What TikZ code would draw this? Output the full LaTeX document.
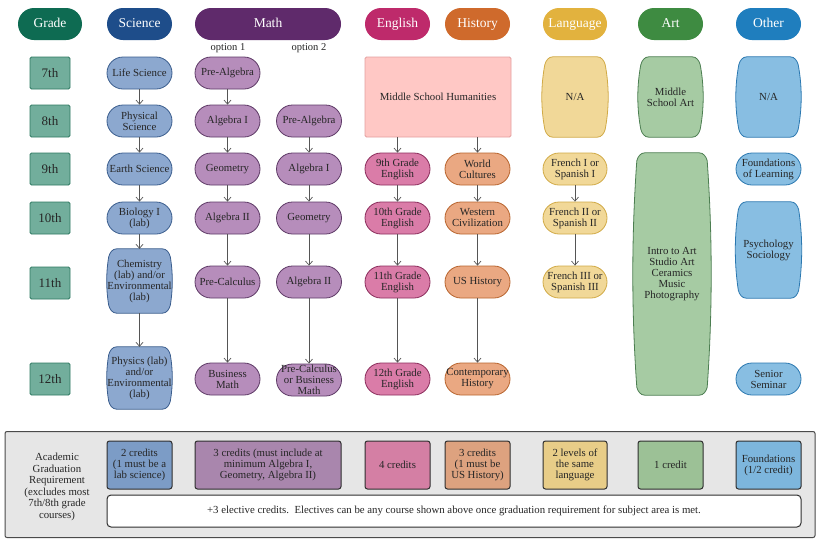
\documentclass[tikz,border=0pt]{standalone}
\usepackage{fontspec}
\setmainfont{Liberation Serif}
\usetikzlibrary{arrows.meta,backgrounds,calc}

\definecolor{ink}{HTML}{262626}
\definecolor{linkgray}{HTML}{555555}
\definecolor{gradeH}{HTML}{0E6B52}
\definecolor{gradeF}{HTML}{72AE9C}
\definecolor{gradeD}{HTML}{2F7A62}
\definecolor{sciH}{HTML}{1E4D8A}
\definecolor{sciF}{HTML}{8CA8CF}
\definecolor{sciD}{HTML}{3B5E8E}
\definecolor{mathH}{HTML}{5F2A6B}
\definecolor{mathF}{HTML}{B68DBB}
\definecolor{mathD}{HTML}{5E3A66}
\definecolor{engH}{HTML}{BE2A6B}
\definecolor{engF}{HTML}{DA7CA8}
\definecolor{engD}{HTML}{8B2D5C}
\definecolor{histH}{HTML}{CF6A2C}
\definecolor{histF}{HTML}{EAA882}
\definecolor{histD}{HTML}{B8642E}
\definecolor{langH}{HTML}{E2B23E}
\definecolor{langF}{HTML}{F1D898}
\definecolor{langD}{HTML}{D1AA46}
\definecolor{artH}{HTML}{3E8B41}
\definecolor{artF}{HTML}{A6CBA3}
\definecolor{artD}{HTML}{4C7E51}
\definecolor{othH}{HTML}{1F7EBE}
\definecolor{othF}{HTML}{88BEE2}
\definecolor{othD}{HTML}{2B78B0}
\definecolor{humF}{HTML}{FFC8C5}
\definecolor{humD}{HTML}{E3A0A0}
\definecolor{panelF}{HTML}{E6E6E6}
\definecolor{panelD}{HTML}{4A4A4A}
\definecolor{credD}{HTML}{2E2E2E}
\definecolor{credSci}{HTML}{7C9CC6}
\definecolor{credMath}{HTML}{A986AD}
\definecolor{credEng}{HTML}{D47FA4}
\definecolor{credHist}{HTML}{DDA27F}
\definecolor{credLang}{HTML}{E8CD88}
\definecolor{credArt}{HTML}{9CC196}
\definecolor{credOth}{HTML}{7DB6DD}

\tikzset{
  txt/.style={
    align=center,
    inner sep=0.5pt,
    text=ink,
    font=\fontsize{10.8}{11}\selectfont,
    minimum width=65pt,
    minimum height=32pt
  },
  box/.style={txt, draw, rounded corners=16pt, line width=0.8pt},
  head/.style={
    rounded corners=16pt,
    minimum width=65pt,
    minimum height=32pt,
    text height=9.5pt,
    text depth=3pt,
    text=white,
    font=\fontsize{13.5}{14}\selectfont
  },
  gradeBox/.style={
    draw=gradeD, fill=gradeF,
    rounded corners=1.5pt,
    line width=0.8pt,
    minimum width=40pt,
    minimum height=32pt,
    text=ink,
    font=\fontsize{13}{13}\selectfont
  },
  optLabel/.style={text=ink, font=\fontsize{10.5}{11}\selectfont},
  sciBox/.style={box, draw=sciD, fill=sciF},
  mathBox/.style={box, draw=mathD, fill=mathF},
  engBox/.style={box, draw=engD, fill=engF},
  histBox/.style={box, draw=histD, fill=histF},
  langBox/.style={box, draw=langD, fill=langF},
  othBox/.style={box, draw=othD, fill=othF},
  cred/.style={txt, draw=credD, rounded corners=2.5pt, line width=1pt, minimum height=48pt},
  link/.style={draw=linkgray, line width=0.7pt, -{Straight Barb[length=4pt,width=7pt]}}
}

% barrel outline round a bare node: name, fill, line, bulge, side control depth
\newcommand\barrelshape[5]{%
  \path[fill=#2, draw=#3, line width=0.8pt]
    ($(#1.north west)+(#4+8,0)$) -- ($(#1.north east)+(-#4-8,0)$)
    .. controls ($(#1.north east)+(-#4-3.6,0)$) and ($(#1.north east)+(-#4-1,4)$) .. ($(#1.north east)+(-#4,8)$)
    .. controls ($(#1.north east)+(#4/3,#5)$) and ($(#1.south east)+(#4/3,-#5)$) .. ($(#1.south east)+(-#4,-8)$)
    .. controls ($(#1.south east)+(-#4-1,-4)$) and ($(#1.south east)+(-#4-3.6,0)$) .. ($(#1.south east)+(-#4-8,0)$)
    -- ($(#1.south west)+(#4+8,0)$)
    .. controls ($(#1.south west)+(#4+3.6,0)$) and ($(#1.south west)+(#4+1,-4)$) .. ($(#1.south west)+(#4,-8)$)
    .. controls ($(#1.south west)+(-#4/3,-#5)$) and ($(#1.north west)+(-#4/3,#5)$) .. ($(#1.north west)+(#4,8)$)
    .. controls ($(#1.north west)+(#4+1,4)$) and ($(#1.north west)+(#4+3.6,0)$) .. cycle;}

\begin{document}
\begin{tikzpicture}[x=1pt, y=-1pt]
  \useasboundingbox (0,0) rectangle (820,542);

  % headers
  \node[head, fill=gradeH, minimum width=64pt] (hgrade) at (50,24) {Grade};
  \node[head, fill=sciH] (hsci) at (139.5,24) {Science};
  \node[head, fill=mathH, minimum width=146pt] (hmath) at (268,24) {Math};
  \node[head, fill=engH] (heng) at (397.5,24) {English};
  \node[head, fill=histH] (hhist) at (477.5,24) {History};
  \node[head, fill=langH, minimum width=64pt] (hlang) at (575,24) {Language};
  \node[head, fill=artH] (hart) at (670.5,24) {Art};
  \node[head, fill=othH] (hoth) at (768.5,24) {Other};
  \node[optLabel] (opt1) at (228,48) {option 1};
  \node[optLabel] (opt2) at (309,48) {option 2};

  % grades
  \foreach \g/\y in {7/73, 8/121, 9/169, 10/218, 11/283, 12/379}
    \node[gradeBox] (g\g) at (50,\y) {\g th};

  % science
  \node[sciBox] (life) at (139.5,73) {Life Science};
  \node[sciBox] (phys) at (139.5,121) {Physical\\Science};
  \node[sciBox] (earth) at (139.5,169) {Earth Science};
  \node[sciBox] (bio) at (139.5,218) {Biology I\\(lab)};
  \node[txt, minimum height=64pt] (chem) at (139.5,281) {Chemistry\\(lab) and/or\\Environmental\\(lab)};
  \node[txt, minimum height=62pt] (physics) at (139.5,378) {Physics (lab)\\and/or\\Environmental\\(lab)};

  % math, option 1
  \node[mathBox] (prealgA) at (227.5,73) {Pre-Algebra};
  \node[mathBox] (algIA) at (227.5,121) {Algebra I};
  \node[mathBox] (geomA) at (227.5,169) {Geometry};
  \node[mathBox] (algIIA) at (227.5,218) {Algebra II};
  \node[mathBox] (precalcA) at (227.5,282) {Pre-Calculus};
  \node[mathBox] (busA) at (227.5,379) {Business\\Math};
  % math, option 2
  \node[mathBox] (prealgB) at (309,121) {Pre-Algebra};
  \node[mathBox] (algIB) at (309,169) {Algebra I};
  \node[mathBox] (geomB) at (309,218) {Geometry};
  \node[mathBox] (algIIB) at (309,282) {Algebra II};
  \node[mathBox] (precalcB) at (309,380) {Pre-Calculus\\or Business\\Math};

  % english and history
  \node[txt, draw=humD, fill=humF, rounded corners=1.5pt, line width=0.8pt,
        minimum width=146pt, minimum height=80pt] (hum) at (438,97) {Middle School Humanities};
  \node[engBox] (eng9) at (397.5,169) {9th Grade\\English};
  \node[engBox] (eng10) at (397.5,218) {10th Grade\\English};
  \node[engBox] (eng11) at (397.5,282) {11th Grade\\English};
  \node[engBox] (eng12) at (397.5,379) {12th Grade\\English};
  \node[histBox] (world) at (477.5,169) {World\\Cultures};
  \node[histBox] (western) at (477.5,218) {Western\\Civilization};
  \node[histBox] (ushist) at (477.5,282) {US History};
  \node[histBox] (contemp) at (477.5,379) {Contemporary\\History};

  % language
  \node[txt, minimum width=66pt, minimum height=80pt] (langna) at (575,97) {N/A};
  \node[langBox, minimum width=64pt] (fr1) at (575,169) {French I or\\Spanish I};
  \node[langBox, minimum width=64pt] (fr2) at (575,218) {French II or\\Spanish II};
  \node[langBox, minimum width=64pt] (fr3) at (575,282) {French III or\\Spanish III};

  % art
  \node[txt, minimum height=80pt] (msart) at (670.5,97) {Middle\\School Art};
  \node[txt, minimum width=78pt, minimum height=242pt] (intro) at (672,274) {Intro to Art\\Studio Art\\Ceramics\\Music\\Photography};

  % other
  \node[txt, minimum height=80pt] (othna) at (768.5,97) {N/A};
  \node[othBox] (found) at (768.5,169) {Foundations\\of Learning};
  \node[txt, minimum width=66pt, minimum height=96pt] (psych) at (768.5,250) {Psychology\\Sociology};
  \node[othBox] (senior) at (768.5,379) {Senior\\Seminar};

  % arrows
  \foreach \a/\b in {life/phys, phys/earth, earth/bio, bio/chem, chem/physics,
                     prealgA/algIA, algIA/geomA, geomA/algIIA, algIIA/precalcA, precalcA/busA,
                     prealgB/algIB, algIB/geomB, geomB/algIIB, algIIB/precalcB,
                     eng9/eng10, eng10/eng11, eng11/eng12,
                     world/western, western/ushist, ushist/contemp,
                     fr1/fr2, fr2/fr3}
    \draw[link] (\a) -- (\b);
  \draw[link] (hum.south -| eng9) -- (eng9);
  \draw[link] (hum.south -| world) -- (world);

  % graduation requirements
  \node[draw=panelD, fill=panelF, rounded corners=2pt, line width=1pt,
        minimum width=810pt, minimum height=106pt] (panel) at (410,484.5) {};
  \node[txt, font=\fontsize{10.8}{11.5}\selectfont, minimum width=90pt] (acad) at (57,487)
    {Academic\\Graduation\\Requirement\\(excludes most\\7th/8th grade\\courses)};
  \node[cred, fill=credSci] (csci) at (139.5,465) {2 credits\\(1 must be a\\lab science)};
  \node[cred, fill=credMath, minimum width=146pt] (cmath) at (268,465) {3 credits (must include at\\minimum Algebra I,\\Geometry, Algebra II)};
  \node[cred, fill=credEng] (ceng) at (397.5,465) {4 credits};
  \node[cred, fill=credHist] (chist) at (477.5,465) {3 credits\\(1 must be\\US History)};
  \node[cred, fill=credLang, minimum width=64pt] (clang) at (575,465) {2 levels of\\the same\\language};
  \node[cred, fill=credArt] (cart) at (670.5,465) {1 credit};
  \node[cred, fill=credOth] (coth) at (768.5,465) {Foundations\\(1/2 credit)};
  \node[cred, fill=white, rounded corners=4pt, minimum width=694pt, minimum height=32pt] (elect) at (454,511)
    {+3 elective credits.\ \ Electives can be any course shown above once graduation requirement for subject area is met.};

  % barrel shapes behind the tall nodes
  \begin{pgfonlayer}{background}
    \fill[white] (0,0) rectangle (820,542);
    \foreach \n/\f/\d/\bl/\kc in {chem/sciF/sciD/2/24, physics/sciF/sciD/2/23.3,
                                  langna/langF/langD/3/29.3, msart/artF/artD/3/29.3,
                                  intro/artF/artD/4/83.3, othna/othF/othD/3/29.3,
                                  psych/othF/othD/3/34.7}
      \barrelshape{\n}{\f}{\d}{\bl}{\kc};
  \end{pgfonlayer}
\end{tikzpicture}
\end{document}
